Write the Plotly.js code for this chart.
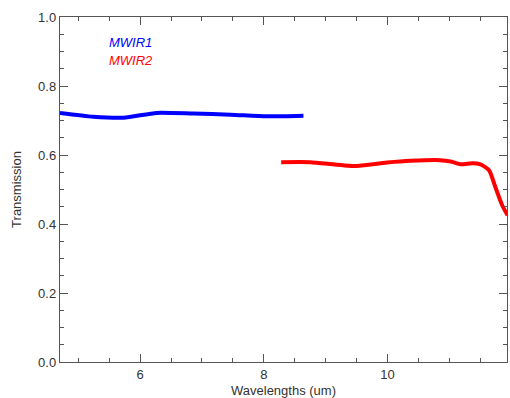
<!DOCTYPE html>
<html>
<head>
<meta charset="utf-8">
<script src="https://cdn.plot.ly/plotly-3.0.1.min.js"></script>
<style>html,body{margin:0;padding:0;background:#fff;}#chart{width:510px;height:398px;}</style>
</head>
<body>
<div id="chart"></div>
<script>
// MWIR1 channel
const mwir1Wavelength = [4.705, 5.24, 5.73, 6.27, 6.86, 7.46, 8.05, 8.64];
const mwir1Transmission = [0.722, 0.711, 0.708, 0.722, 0.720, 0.717, 0.712, 0.714];
// MWIR2 channel
const mwir2Wavelength = [8.28, 8.75, 9.45, 9.99, 10.37, 10.85, 11.02, 11.18, 11.37, 11.5, 11.64, 11.74, 11.85, 11.94];
const mwir2Transmission = [0.579, 0.579, 0.568, 0.578, 0.583, 0.585, 0.581, 0.573, 0.576, 0.573, 0.556, 0.508, 0.455, 0.425];
const seriesNames = ['MWIR1', 'MWIR2'];
const seriesColors = ['#0000ff', '#ff0000'];

const font = "Liberation Sans, Arial, sans-serif";
const axisCommon = {
  showgrid: false, zeroline: false, showline: true, linecolor: '#555', linewidth: 1.2,
  mirror: 'ticks', ticks: 'inside', ticklen: 8, tickcolor: '#555', tickwidth: 1,
  tickfont: {family: font, size: 13, color: '#333'}
};
const traces = [
  {x: mwir1Wavelength, y: mwir1Transmission, name: seriesNames[0], mode: 'lines',
   line: {color: seriesColors[0], width: 4, shape: 'spline', smoothing: 0.6}},
  {x: mwir2Wavelength, y: mwir2Transmission, name: seriesNames[1], mode: 'lines',
   line: {color: seriesColors[1], width: 4, shape: 'spline', smoothing: 0.6}}
];
const layout = {
  width: 510, height: 398,
  margin: {l: 60, r: 3, t: 17, b: 36},
  paper_bgcolor: '#fff', plot_bgcolor: '#fff',
  showlegend: false,
  xaxis: Object.assign({}, axisCommon, {
    range: [4.705, 11.93], tick0: 0, dtick: 2,
    minor: {dtick: 0.5, ticklen: 4, ticks: 'inside', tickcolor: '#555'},
    title: {text: 'Wavelengths (um)', font: {family: font, size: 13, color: '#333'}, standoff: 6}
  }),
  yaxis: Object.assign({}, axisCommon, {
    range: [0, 1], dtick: 0.2, tickformat: '.1f',
    minor: {dtick: 0.05, ticklen: 4, ticks: 'inside', tickcolor: '#555'},
    title: {text: 'Transmission', font: {family: font, size: 13, color: '#333'}, standoff: 13}
  }),
  annotations: seriesNames.map((n, i) => ({
    text: n, xref: 'paper', yref: 'paper', x: 0.105, y: 0.925 - i * 0.052,
    xanchor: 'left', yanchor: 'middle', showarrow: false,
    font: {family: font, size: 13, color: seriesColors[i], style: 'italic'}
  }))
};
Plotly.newPlot('chart', traces, layout, {displayModeBar: false, staticPlot: true});
</script>
</body>
</html>
